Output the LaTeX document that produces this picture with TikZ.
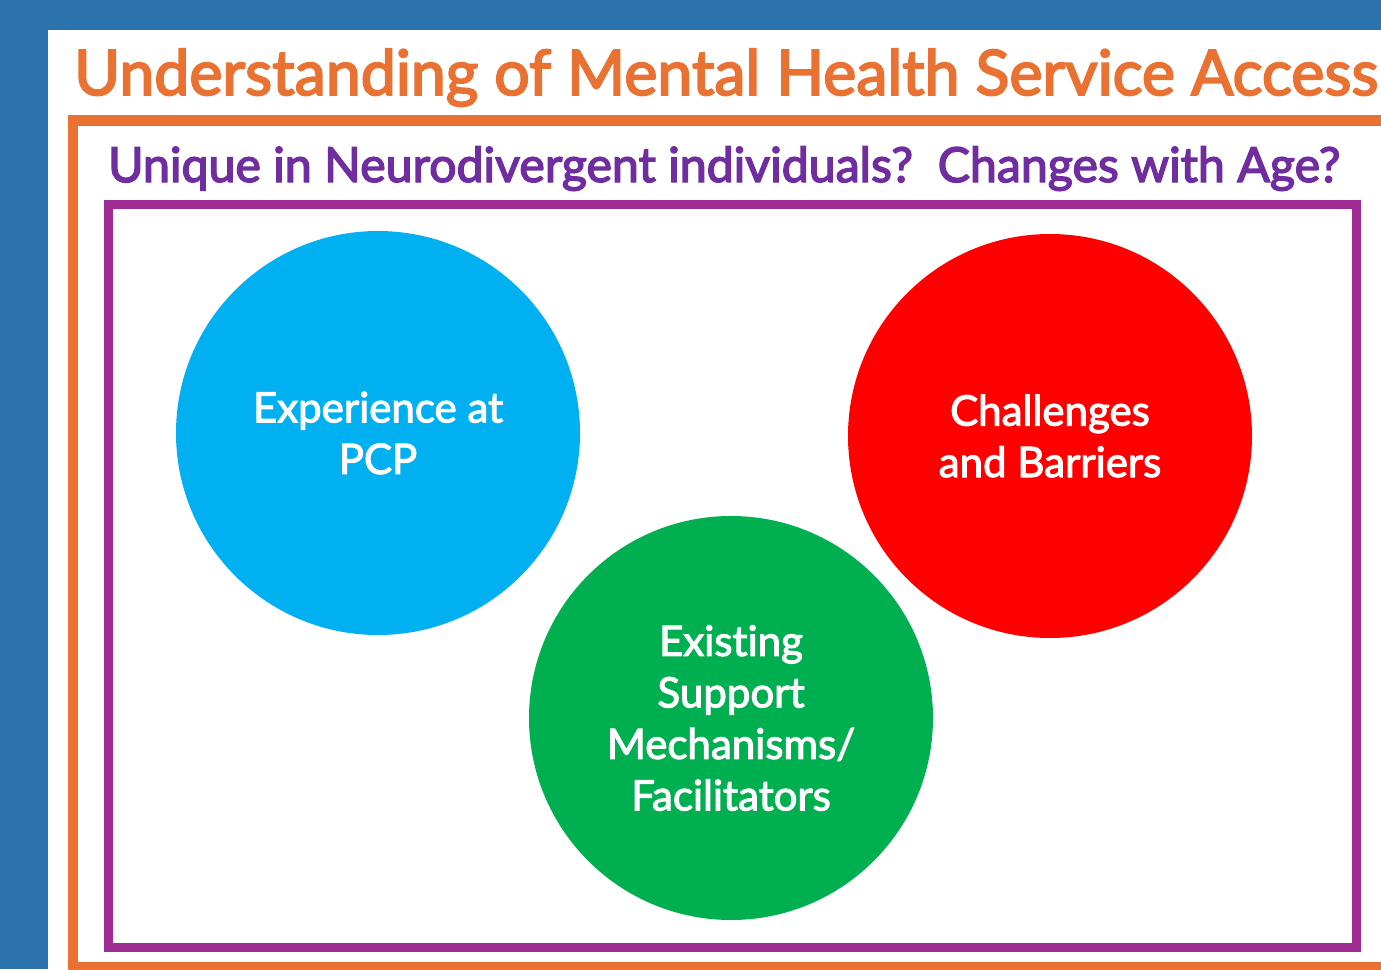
\documentclass[tikz,border=0pt]{standalone}
\usepackage{fontspec}
\setmainfont{Lato}[Ligatures=NoCommon, FakeBold=3]
\newfontfamily\circlefont{Lato}[Ligatures=NoCommon, FakeBold=2.5]
\usepackage{graphicx}
\definecolor{pageblue}{RGB}{42,115,172}
\definecolor{frameorange}{HTML}{E97132}
\definecolor{framepurple}{HTML}{A02B93}
\definecolor{subpurple}{HTML}{6F2DA0}
\definecolor{pcpblue}{HTML}{00B0F0}
\definecolor{barred}{HTML}{FF0000}
\definecolor{supgreen}{HTML}{00B050}
\tikzset{
  topic/.style={circle, minimum size=404pt, inner sep=0pt, align=center,
    text=white, font=\circlefont\fontsize{42pt}{51.5pt}\selectfont},
  heading/.style={anchor=base west, inner sep=0pt},
}
\begin{document}
\begin{tikzpicture}[x=1pt,y=-1pt]
  \useasboundingbox (0,0) rectangle (1381,969);
  % page background and white slide panel
  \fill[pageblue] (0,0) rectangle (1381,969);
  \fill[white] (48,30) rectangle (1381,969);
  % heading
  \node[heading, text=frameorange] (title) at (74,95)
    {\resizebox{1304pt}{!}{Understanding of Mental Health Service Access}};
  % outer orange frame, running off the right edge
  \draw[frameorange, line width=10.5pt] (73,120.5) rectangle (1400,967);
  \node[heading, text=subpurple] (subtitle) at (108,182)
    {\resizebox{1232pt}{!}{Unique in Neurodivergent individuals?\ \ Changes with Age?}};
  % inner purple frame
  \draw[framepurple, line width=9pt] (108,204.5) rectangle (1356.5,947);
  % three topic circles
  \node[topic, fill=pcpblue] (pcp) at (378,433) {Experience at\\PCP};
  \node[topic, fill=barred] (barriers) at (1050,436) {Challenges\\and Barriers};
  \node[topic, fill=supgreen] (support) at (731,718) {Existing\\Support\\Mechanisms/\\Facilitators};
\end{tikzpicture}
\end{document}
